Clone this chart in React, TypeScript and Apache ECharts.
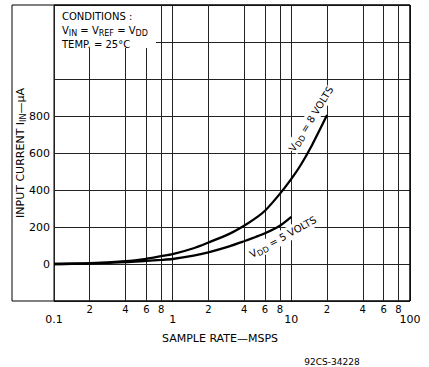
import React, { useEffect, useRef } from "react";
import * as echarts from "echarts";

// Sample rate (MSPS) and input current (µA)
const rate8V = [0.1, 0.2, 0.4, 0.6, 0.8, 1, 1.5, 2, 3, 4, 5, 6, 8, 10, 12, 15, 20];
const current8V = [0, 4, 15, 28, 42, 53, 85, 116, 163, 207, 248, 288, 379, 460, 535, 645, 805];
const rate5V = [0.1, 0.2, 0.4, 0.6, 0.8, 1, 1.5, 2, 3, 4, 5, 6, 8, 10];
const current5V = [0, 3, 10, 17, 22, 27, 45, 63, 95, 123, 146, 166, 207, 255];

// Intermediate log grid lines with their labels
const minorRates = [0.2, 0.4, 0.6, 0.8, 2, 4, 6, 8, 20, 40, 60, 80];
const minorLabels = ["2", "4", "6", "8", "2", "4", "6", "8", "2", "4", "6", "8"];
const yLabeled = [0, 200, 400, 600, 800];

const FONT = "DejaVu Sans";
const INK = "#000";

export default function App() {
  const ref = useRef<HTMLDivElement>(null);
  useEffect(() => {
    if (!ref.current) return;
    const chart = echarts.init(ref.current, null, { renderer: "svg" });
    const pair = (xs: number[], ys: number[]) => xs.map((x, i) => [x, ys[i]]);
    const sub = { fontSize: 8, fontFamily: FONT, fill: INK, padding: [6, 0, 0, 0] };
    const main = { fontSize: 10, fontFamily: FONT, fill: INK };
    chart.setOption({
      animation: false,
      backgroundColor: "#fff",
      textStyle: { fontFamily: FONT, color: INK },
      grid: {
        left: 54,
        right: 19,
        top: 5,
        bottom: 66,
        show: true,
        borderColor: INK,
        borderWidth: 1,
        backgroundColor: "transparent",
      },
      xAxis: {
        type: "log",
        logBase: 10,
        min: 0.1,
        max: 100,
        axisLine: { show: false },
        axisTick: { show: false },
        splitLine: { show: true, lineStyle: { color: "#222", width: 1 } },
        minorTick: { show: false },
        axisLabel: {
          margin: 13,
          fontSize: 11,
          fontFamily: FONT,
          color: INK,
          formatter: (v: number) => String(+Number(v).toPrecision(3)),
        },
      },
      yAxis: {
        type: "value",
        min: -200,
        max: 1400,
        interval: 200,
        axisLine: { show: false },
        axisTick: { show: false },
        splitLine: { show: true, lineStyle: { color: "#222", width: 1 } },
        axisLabel: {
          margin: 4,
          fontSize: 11,
          fontFamily: FONT,
          color: INK,
          formatter: (v: number) => (yLabeled.includes(v) ? String(v) : ""),
        },
      },
      series: [
        {
          type: "line",
          data: pair(rate8V, current8V),
          smooth: 0.25,
          symbol: "none",
          lineStyle: { color: "#000", width: 2.3 },
          z: 5,
          markLine: {
            silent: true,
            symbol: ["none", "none"],
            animation: false,
            lineStyle: { color: "#222", width: 1, type: "solid" },
            label: {
              show: true,
              position: "start",
              distance: 3,
              fontSize: 10,
              fontFamily: FONT,
              color: INK,
              formatter: (p: any) => minorLabels[p.dataIndex],
            },
            emphasis: { disabled: true },
            data: minorRates.map((r) => ({ xAxis: r })),
          },
        },
        {
          type: "line",
          data: pair(rate5V, current5V),
          smooth: 0.25,
          symbol: "none",
          lineStyle: { color: "#000", width: 2.3 },
          z: 5,
        },
      ],
      graphic: {
        elements: [
          {
            type: "rect",
            z: 1,
            shape: { x: 12, y: 5, width: 398, height: 296 },
            style: { fill: "none", stroke: INK, lineWidth: 1 },
            silent: true,
          },
          {
            type: "rect",
            z: 100,
            shape: { x: 55, y: 6, width: 101, height: 42 },
            style: { fill: "#fff" },
            silent: true,
          },
          {
            type: "text",
            z: 101,
            x: 62,
            y: 9,
            style: {
              text: "CONDITIONS :\n{a|V}{s|IN}{a| = V}{s|REF}{a| = V}{s|DD}\nTEMP. = 25°C",
              fontSize: 10,
              fontFamily: FONT,
              fill: INK,
              lineHeight: 14,
              rich: {
                a: { ...main, lineHeight: 14 },
                s: { ...sub, lineHeight: 14 },
              },
            },
          },
          {
            type: "text",
            z: 101,
            x: 20,
            y: 153,
            rotation: Math.PI / 2,
            style: {
              text: "{a|INPUT CURRENT I}{s|IN}{a|—µA}",
              align: "center",
              verticalAlign: "middle",
              rich: {
                a: { ...main, fontSize: 11 },
                s: sub,
              },
            },
          },
          {
            type: "text",
            z: 101,
            x: 311,
            y: 119,
            rotation: (58 * Math.PI) / 180,
            style: {
              text: "{a|V}{s|DD}{a| = 8 VOLTS}",
              align: "center",
              verticalAlign: "middle",
              backgroundColor: "#fff",
              rich: { a: main, s: sub },
            },
          },
          {
            type: "text",
            z: 101,
            x: 283,
            y: 237,
            rotation: (29 * Math.PI) / 180,
            style: {
              text: "{a|V}{s|DD}{a| = 5 VOLTS}",
              align: "center",
              verticalAlign: "middle",
              backgroundColor: "#fff",
              rich: { a: main, s: sub },
            },
          },
          {
            type: "text",
            z: 101,
            x: 220,
            y: 338,
            style: {
              text: "SAMPLE RATE—MSPS",
              align: "center",
              verticalAlign: "middle",
              fontSize: 11,
              fontFamily: FONT,
              fill: INK,
            },
          },
          {
            type: "text",
            z: 101,
            x: 332,
            y: 362,
            style: {
              text: "92CS-34228",
              align: "center",
              verticalAlign: "middle",
              fontSize: 9,
              fontFamily: FONT,
              fill: INK,
            },
          },
        ],
      },
    });
    return () => chart.dispose();
  }, []);
  return (
    <div
      ref={ref}
      style={{ position: "absolute", left: 0, top: 0, width: 429, height: 367, background: "#fff" }}
    />
  );
}
